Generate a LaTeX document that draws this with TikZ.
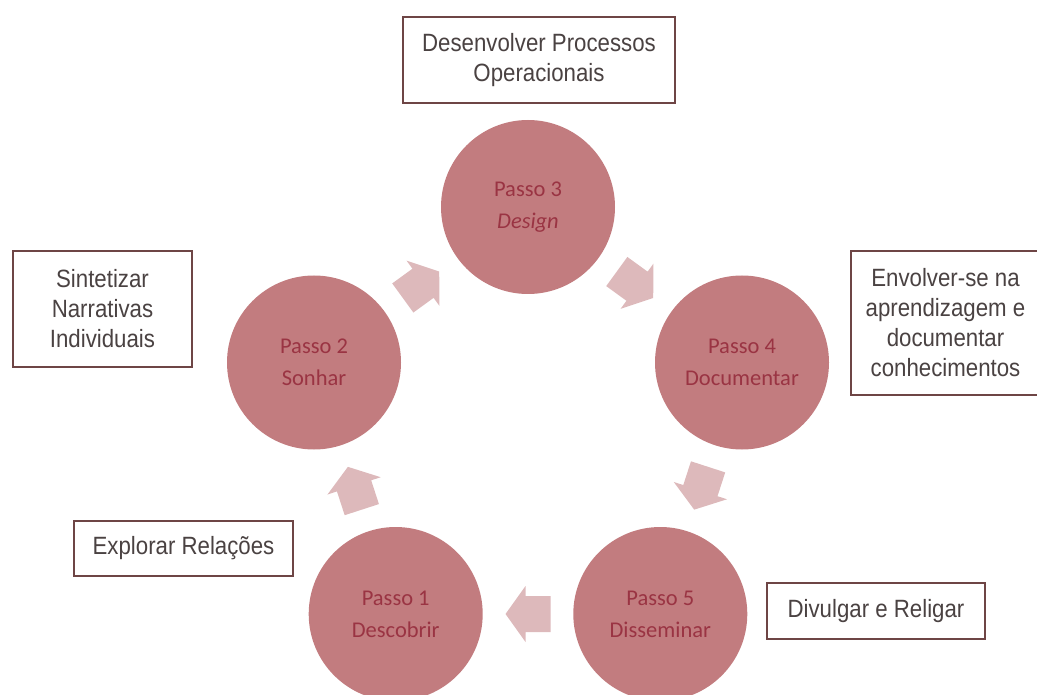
\documentclass[tikz,border=0pt]{standalone}
\usepackage{fontspec}
\setmainfont{Liberation Sans}[FakeStretch=0.89]
\newfontfamily\circfont{Carlito}
\usetikzlibrary{calc}
\definecolor{circfill}{HTML}{C27C7F}
\definecolor{circtext}{HTML}{9A3443}
\definecolor{arrowfill}{HTML}{DDB9BB}
\definecolor{boxline}{HTML}{6E4545}
\definecolor{boxtext}{HTML}{4A4242}
\begin{document}
\begin{tikzpicture}[x=1pt,y=-1pt,
  stepcircle/.style={circle, fill=circfill, minimum size=174pt, inner sep=0pt,
    text=circtext, font=\circfont\fontsize{22.5}{32}\selectfont, align=center},
  labelbox/.style={draw=boxline, line width=1.2pt, fill=white, text=boxtext,
    font=\fontsize{25}{30}\selectfont, align=center, inner sep=0pt},
  flowarrow/.style={fill=arrowfill}
]
\useasboundingbox (0,0) rectangle (1037,695);
% circle centres (regular pentagon)
\coordinate (c3) at (528,207);
\coordinate (c4) at (742,362.5);
\coordinate (c5) at (660.3,614);
\coordinate (c1) at (395.7,614);
\coordinate (c2) at (314,362.5);
% midpoints for the block arrows
\coordinate (m12) at ($(c1)!0.5!(c2)$);
\coordinate (m23) at ($(c2)!0.5!(c3)$);
\coordinate (m34) at ($(c3)!0.5!(c4)$);
\coordinate (m45) at ($(c4)!0.5!(c5)$);
\coordinate (m51) at ($(c5)!0.5!(c1)$);
% block arrows (pointing along local +x)
\def\blockarrow{(-22.5,-18) -- (2.5,-18) -- (2.5,-28) -- (22.5,0) -- (2.5,28) -- (2.5,18) -- (-22.5,18) -- cycle}
\path[flowarrow, shift={(m12)}, rotate=108] \blockarrow;
\path[flowarrow, shift={(m23)}, rotate=36] \blockarrow;
\path[flowarrow, shift={(m34)}, rotate=-36] \blockarrow;
\path[flowarrow, shift={(m45)}, rotate=-108] \blockarrow;
\path[flowarrow, shift={(m51)}, rotate=180] \blockarrow;
% step circles
\node[stepcircle] (s3) at (c3) {Passo 3\\\textit{Design}};
\node[stepcircle] (s4) at (c4) {Passo 4\\Documentar};
\node[stepcircle] (s5) at (c5) {Passo 5\\Disseminar};
\node[stepcircle] (s1) at (c1) {Passo 1\\Descobrir};
\node[stepcircle] (s2) at (c2) {Passo 2\\Sonhar};
% label boxes
\node[labelbox, minimum width=272pt, minimum height=86pt] (b3) at (539,60)
  {Desenvolver Processos\\Operacionais};
\node[labelbox, minimum width=179pt, minimum height=116pt] (b2) at (102.5,309)
  {Sintetizar\\Narrativas\\Individuais};
\node[labelbox, minimum width=189pt, minimum height=144pt] (b4) at (945.5,323)
  {Envolver-se na\\aprendizagem e\\documentar\\conhecimentos};
\node[labelbox, minimum width=219pt, minimum height=55pt] (b1) at (183.5,548.5)
  {Explorar Relações};
\node[labelbox, minimum width=218pt, minimum height=56pt] (b5) at (876,611)
  {Divulgar e Religar};
\end{tikzpicture}
\end{document}
